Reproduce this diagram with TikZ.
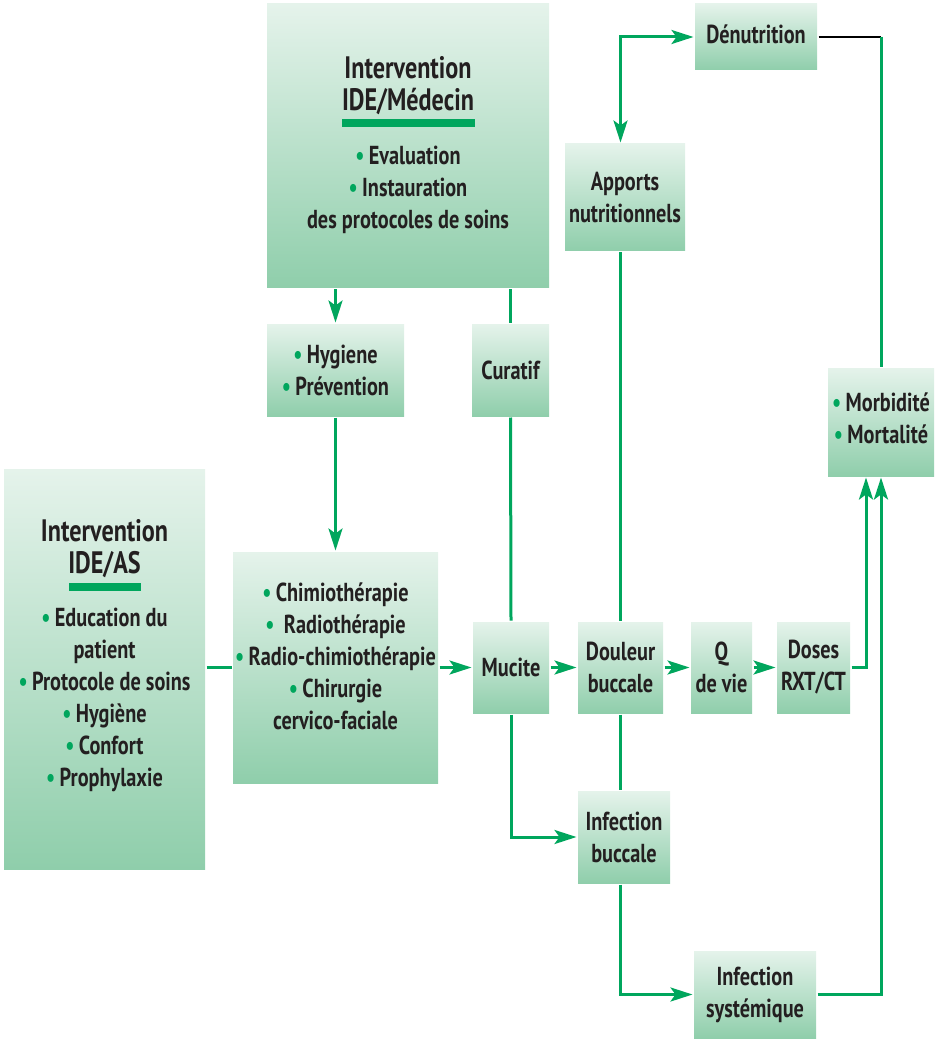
\documentclass[tikz,border=0pt]{standalone}
\usepackage{fontspec}
\setmainfont{PT Sans}[FakeStretch=0.78]
\usetikzlibrary{arrows.meta, positioning}
\definecolor{cgreen}{HTML}{00A65D}
\definecolor{ctop}{HTML}{E5F3EB}
\definecolor{cbot}{HTML}{8FCEAB}
\definecolor{ctext}{HTML}{231F20}
\newcommand{\gb}{{\color{cgreen}\textbullet}\,}
\newcommand{\bigf}{\fontsize{31}{37}\selectfont}
\newcommand{\normf}{\fontsize{26}{32}\selectfont}
\newcommand{\greenbar}[1]{\textcolor{cgreen}{\rule{#1}{8pt}}}
\tikzset{
  every picture/.style={font=\bfseries\normf, text=ctext, line width=3pt},
  box/.style n args={2}{rectangle, top color=ctop, bottom color=cbot, draw=none, inner sep=0pt, align=center, minimum width=#1, minimum height=#2},
  link/.style={draw=cgreen},
  arrow/.style={link, -{Stealth[length=22pt, width=14pt, inset=5pt]}},
  twoway/.style={link, {Stealth[length=22pt, width=14pt, inset=5pt]}-{Stealth[length=22pt, width=14pt, inset=5pt]}},
}
\begin{document}
\begin{tikzpicture}[x=1pt, y=-1pt]
  \useasboundingbox (0,0) rectangle (941,1040);
  % boxes
  \node[box={282pt}{284pt}] (idemed) at (408,146) {\bigf Intervention\\ \bigf IDE/Médecin\\[-15pt] \normf\greenbar{133pt}\\[5pt] \gb Evaluation\\ \gb Instauration\\ des protocoles de soins\\[-24pt] ~};
  \node[box={122pt}{66pt}] (denut) at (756,37) {Dénutrition\\[-26pt] ~};
  \node[box={120pt}{107pt}] (apports) at (625,197.5) {Apports\\ nutritionnels};
  \node[box={137pt}{92pt}] (hyg) at (335.5,370) {\gb Hygiene\\ \gb Prévention};
  \node[box={77pt}{92pt}] (curatif) at (510.5,370) {Curatif};
  \node[box={106pt}{108pt}] (morbid) at (881,422) {\gb Morbidité\\ \gb Mortalité\\[-24pt] ~};
  \node[box={201pt}{400pt}] (ideas) at (104.5,669) {\bigf Intervention\\ \bigf IDE/AS\\[-15pt] \normf\greenbar{72pt}\\[4pt] \gb Education du\\ patient\\ \gb Protocole de soins\\ \gb Hygiène\\ \gb Confort\\ \gb Prophylaxie\\ ~};
  \node[box={205pt}{231pt}] (chimio) at (335.5,667.5) {\gb Chimiothérapie\\ \gb\ Radiothérapie\\ \gb Radio-chimiothérapie\\ \gb Chirurgie\\ cervico-faciale\\[-10pt] ~};
  \node[box={76pt}{91pt}] (mucite) at (511,667.5) {Mucite};
  \node[box={85pt}{91pt}] (douleur) at (620.5,667.5) {Douleur\\ buccale};
  \node[box={61pt}{91pt}] (qvie) at (721.5,667.5) {Q\\ de vie};
  \node[box={73pt}{91pt}] (doses) at (813.5,667.5) {Doses\\ RXT/CT};
  \node[box={92pt}{92pt}] (infbuc) at (624,837) {Infection\\ buccale};
  \node[box={122pt}{87pt}] (infsys) at (755,994.5) {Infection\\ systémique};
  % connectors
  \coordinate (cn) at (881,37);
  \draw[arrow] (hyg.north |- idemed.south) -- (hyg.north);
  \draw[link] (curatif.north |- idemed.south) -- (curatif.north);
  \draw[arrow] (hyg.south) -- (chimio.north);
  \draw[link] (curatif.south) -- (mucite.north);
  \draw[link] (ideas.east |- chimio.west) -- (chimio.west);
  \draw[arrow] (chimio.east) -- (mucite.west);
  \draw[arrow] (mucite.east) -- (douleur.west);
  \draw[arrow] (douleur.east) -- (qvie.west);
  \draw[arrow] (qvie.east) -- (doses.west);
  \draw[arrow] (doses.east) -| ([xshift=-15pt]morbid.south);
  \draw[arrow] (infsys.east) -| (morbid.south);
  \draw[twoway] (douleur.north |- apports.north) |- (denut.west);
  \draw[link] (douleur.north |- apports.south) -- (douleur.north);
  \draw[link] (douleur.south) -- (douleur.south |- infbuc.north);
  \draw[arrow] (douleur.south |- infbuc.south) |- (infsys.west);
  \draw[arrow] (mucite.south) |- (infbuc.west);
  \draw[black, line width=2.5pt] (denut.east) -- (cn);
  \draw[link] (cn) -- (cn |- morbid.north);
\end{tikzpicture}
\end{document}
